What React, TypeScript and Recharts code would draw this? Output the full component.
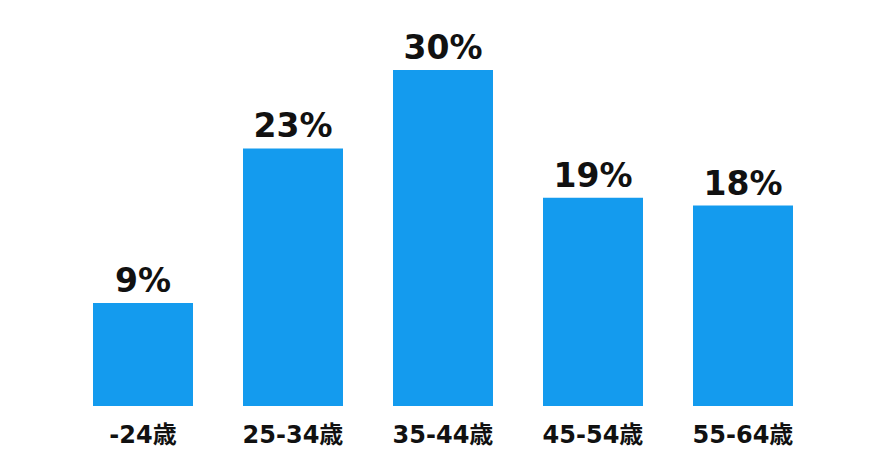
import { BarChart, Bar, XAxis, YAxis, LabelList } from "recharts";

const ageGroups = ["-24歳", "25-34歳", "35-44歳", "45-54歳", "55-64歳"];
const shares = [9.2, 23, 30, 18.6, 17.9];

const data = ageGroups.map((age, i) => ({ age, share: shares[i] }));

const font = "'DejaVu Sans', 'Noto Sans CJK JP', sans-serif";

export default function App() {
  return (
    <div style={{ position: "absolute", left: 0, top: 0, background: "#fff" }}>
      <BarChart
        width={894}
        height={472}
        data={data}
        margin={{ top: 70, right: 76, bottom: 0, left: 68 }}
      >
        <XAxis
          dataKey="age"
          axisLine={false}
          tickLine={false}
          tickSize={0}
          tickMargin={20}
          height={66}
          interval={0}
          tick={{ fill: "#111", fontSize: 24, fontWeight: 700, fontFamily: font }}
        />
        <YAxis hide domain={[0, 30]} />
        <Bar dataKey="share" fill="#149BEE" barSize={100} isAnimationActive={false}>
          <LabelList
            dataKey="share"
            position="top"
            offset={11}
            formatter={(v: number) => `${Math.round(v)}%`}
            style={{ fill: "#111", fontSize: 33, fontWeight: 700, fontFamily: font }}
          />
        </Bar>
      </BarChart>
    </div>
  );
}
